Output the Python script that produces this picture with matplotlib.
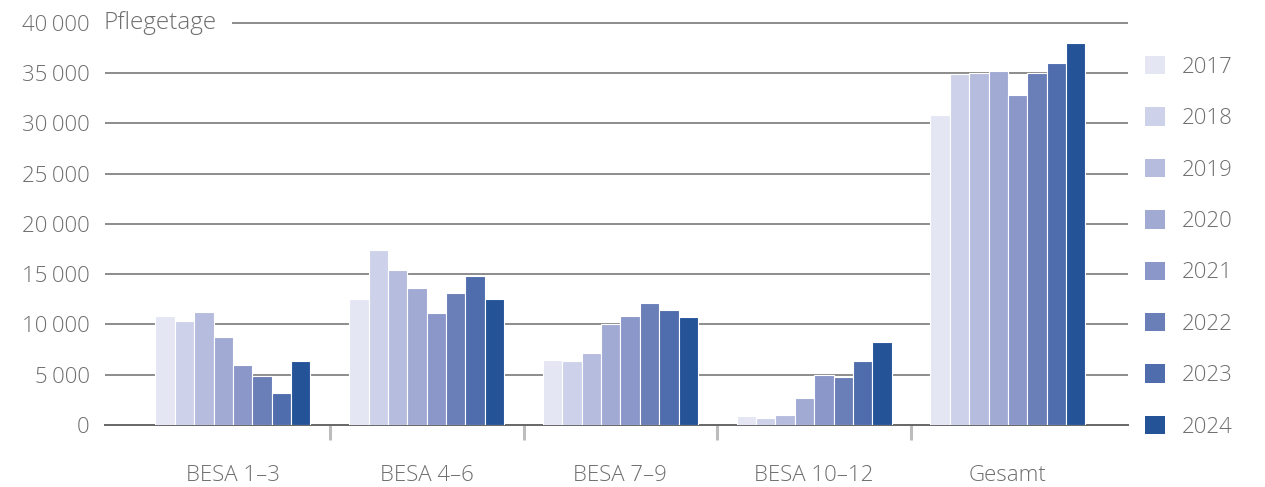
import numpy as np
import matplotlib.pyplot as plt
from matplotlib.ticker import FuncFormatter, FixedLocator
from matplotlib.patches import Patch

plt.rcParams['font.family'] = ['Open Sans', 'DejaVu Sans']
plt.rcParams['font.weight'] = 'light'

categories = ['BESA 1–3', 'BESA 4–6', 'BESA 7–9', 'BESA 10–12', 'Gesamt']
years = ['2017', '2018', '2019', '2020', '2021', '2022', '2023', '2024']

# Pflegetage per BESA level and year (rows: years, cols: categories)
values = {
    '2017': [10800, 12550, 6470, 900, 30800],
    '2018': [10300, 17430, 6370, 700, 34900],
    '2019': [11250, 15450, 7170, 1000, 35000],
    '2020': [8750, 13650, 10000, 2700, 35200],
    '2021': [5980, 11150, 10850, 4980, 32800],
    '2022': [4900, 13150, 12150, 4800, 35000],
    '2023': [3200, 14850, 11450, 6370, 36000],
    '2024': [6370, 12550, 10750, 8270, 38000],
}
colors = ['#e4e6f4', '#cdd2ea', '#b5bcdd', '#a0aad3', '#8a97c8',
          '#6a7eb8', '#4f6dad', '#245398']

yticks = [0, 5000, 10000, 15000, 20000, 25000, 30000, 35000, 40000]
text_col = '#6e6e6e'
fs = 16

fig = plt.figure(figsize=(12.65, 4.87), dpi=100)
ax = fig.add_axes([105 / 1265, 62 / 487, (1128 - 105) / 1265, (464.3 - 62) / 487])

x = np.arange(len(categories))
w = 0.1
for i, yr in enumerate(years):
    ax.bar(x - 0.4 + w * (i + 0.5), values[yr], width=w, color=colors[i],
           edgecolor='white', linewidth=0.8, zorder=3, label=yr)

ax.set_xlim(-0.66, 4.62)
ax.set_ylim(0, 40000)

# horizontal grid; top line starts after the unit label
ax.hlines(yticks[1:-1], 0, 1, transform=ax.get_yaxis_transform(),
          color='#8c8c8c', lw=1.4, zorder=1)
ax.hlines(yticks[-1], 0.124, 1, transform=ax.get_yaxis_transform(),
          color='#8c8c8c', lw=1.4, zorder=1, clip_on=False)
ax.text(-0.0015, 40000, 'Pflegetage', transform=ax.get_yaxis_transform(),
        ha='left', va='center', fontsize=17.5, color=text_col)

for s in ['top', 'right', 'left']:
    ax.spines[s].set_visible(False)
ax.spines['bottom'].set_color('#666666')
ax.spines['bottom'].set_linewidth(1.4)

ax.set_yticks(yticks)
ax.yaxis.set_major_formatter(FuncFormatter(
    lambda v, p: f'{int(v):,}'.replace(',', '\u2009')))
ax.tick_params(axis='y', length=0, pad=11, labelsize=fs, labelcolor=text_col)

ax.set_xticks(x)
ax.set_xticklabels(categories)
ax.xaxis.set_minor_locator(FixedLocator([0.5, 1.5, 2.5, 3.5]))
ax.tick_params(axis='x', which='major', length=0, pad=28.5, labelsize=fs,
               labelcolor=text_col)
ax.tick_params(axis='x', which='minor', length=11, width=2.2, color='#bdbdbd')

handles = [Patch(facecolor=c, edgecolor='none') for c in colors]
leg = ax.legend(handles, years, loc='upper left', bbox_to_anchor=(1.008, 0.94),
                frameon=False, fontsize=fs, handlelength=0.9, handleheight=0.9,
                handletextpad=0.75, labelspacing=1.33, borderaxespad=0)
for t in leg.get_texts():
    t.set_color(text_col)

fig.savefig('out.png', dpi=100)
